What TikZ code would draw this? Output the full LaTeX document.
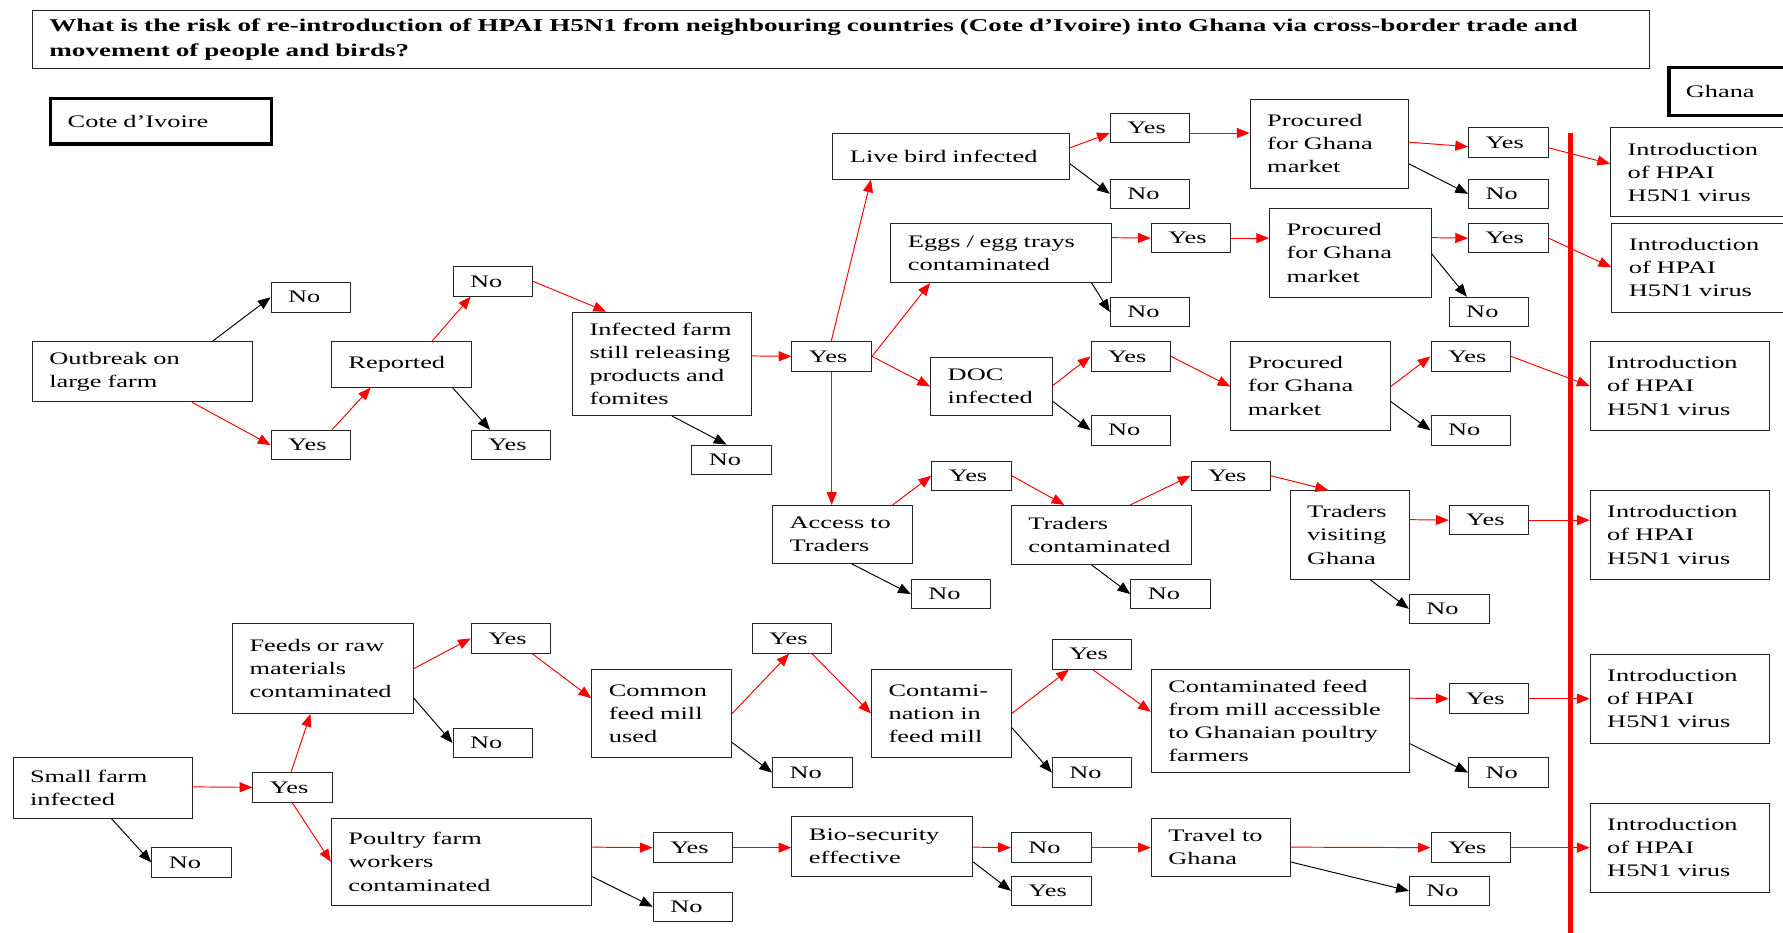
\documentclass[tikz,border=0pt]{standalone}
\usepackage{fontspec}
\setmainfont[FakeStretch=1.5]{Liberation Serif}
\usetikzlibrary{arrows.meta}
\begin{document}
\begin{tikzpicture}[x=0.025cm, y=-0.025cm,
  bx/.style={draw=black!85, line width=0.6pt, anchor=north west, align=left, inner xsep=0.375cm, inner ysep=0pt, font=\fontsize{11}{14.5}\selectfont},
  ans/.style={bx, text width=1cm, minimum height=0.65cm},
  res/.style={bx, text width=3.2cm, minimum height=1.95cm},
  cty/.style={bx, draw=black, line width=2.2pt},
  redarr/.style={red, line width=0.6pt, -{Triangle[length=0.28cm,width=0.22cm]}},
  blkarr/.style={black, line width=0.6pt, -{Triangle[length=0.28cm,width=0.22cm]}}]
\clip (0,0) rectangle (1568,820);
\node[bx, text width=34.8cm, minimum height=1.275cm, font=\fontsize{11.3}{15.5}\selectfont\bfseries] (ttl) at (28,9){What is the risk of re-introduction of HPAI H5N1 from neighbouring countries (Cote d’Ivoire) into Ghana via cross-border trade and\\movement of people and birds?};
\node[cty, text width=4.1cm, minimum height=1cm] (cty0) at (43,85){Cote d’Ivoire};
\node[cty, text width=2.6cm, minimum height=1.05cm] (cty1) at (1466,58){Ghana};
% large farm
\node[bx, text width=4.1cm, minimum height=1.325cm] (q0) at (28,300){Outbreak on\\large farm};
\node[ans] (a0) at (238,248){No};
\node[ans] (a1) at (238,378){Yes};
\draw[blkarr](q0.north -| 187,0) -- (a0.west);
\draw[redarr](q0.south -| 169,0) -- (a1.west);
\node[bx, text width=2.325cm, minimum height=1cm] (q1) at (291,300){Reported};
\node[ans] (a2) at (398,234){No};
\node[ans] (a3) at (414,378){Yes};
\draw[redarr](a1.north -| 292,0) -- (q1.south -| 326,0);
\draw[redarr](q1.north -| 380,0) -- (a2.south -| 414,0);
\draw[blkarr](q1.south -| 398,0) -- (a3.north -| 431,0);
\node[bx, text width=3.175cm, minimum height=2.275cm] (q2) at (503,274){Infected farm\\still releasing\\products and\\fomites};
\node[ans] (a4) at (608,391){No};
\node[ans] (a5) at (696,300){Yes};
\draw[redarr](a2.east) -- (q2.north -| 533,0);
\draw[blkarr](q2.south -| 591,0) -- (a4.north -| 639,0);
\draw[redarr](q2.east |- 0,313) -- (a5.west);
% live birds
\node[bx, text width=4.45cm, minimum height=1cm] (q3) at (732,117){Live bird infected};
\node[ans] (a6) at (976,99){Yes};
\node[ans] (a7) at (976,157){No};
\node[bx, text width=2.725cm, minimum height=1.95cm] (q4) at (1099,87){Procured\\for Ghana\\market};
\node[ans] (a8) at (1291,112){Yes};
\node[ans] (a9) at (1291,157){No};
\node[res, text width=4cm] (r0) at (1416,112){Introduction\\of HPAI\\H5N1 virus};
\draw[redarr](a5.north -| 731,0) -- (q3.south -| 766,0);
\draw[redarr](q3.east |- 0,130) -- (a6.west |- 0,117);
\draw[blkarr](q3.east |- 0,144) -- (a7.west);
\draw[redarr](a6.east |- 0,117) -- (q4.west |- 0,117);
\draw[redarr](q4.east |- 0,125) -- (a8.west |- 0,129);
\draw[blkarr](q4.east |- 0,144) -- (a9.west);
\draw[redarr](a8.east |- 0,130) -- (r0.west |- 0,144);
% eggs
\node[bx, text width=4.1cm, minimum height=1.3cm] (q5) at (783,196){Eggs / egg trays\\contaminated};
\node[ans] (a10) at (1012,196){Yes};
\node[ans] (a11) at (976,261){No};
\node[bx, text width=2.8cm, minimum height=1.95cm] (q6) at (1116,183){Procured\\for Ghana\\market};
\node[ans] (a12) at (1291,196){Yes};
\node[ans] (a13) at (1274,261){No};
\node[res, text width=4cm] (r1) at (1417,196){Introduction\\of HPAI\\H5N1 virus};
\draw[redarr](a5.east) -- (q5.south -| 818,0);
\draw[redarr](q5.east |- 0,209) -- (a10.west);
\draw[blkarr](q5.south -| 960,0) -- (a11.west);
\draw[redarr](a10.east) -- (q6.west |- a10.east);
\draw[redarr](q6.east |- 0,209) -- (a12.west);
\draw[blkarr](q6.east |- 0,223) -- (a13.north -| 1290,0);
\draw[redarr](a12.east) -- (r1.west |- 0,235);
% day old chicks
\node[bx, text width=1.925cm, minimum height=1.275cm] (q7) at (818,314){DOC\\infected};
\node[ans] (a14) at (959,300){Yes};
\node[ans] (a15) at (959,365){No};
\node[bx, text width=2.75cm, minimum height=1.95cm] (q8) at (1082,300){Procured\\for Ghana\\market};
\node[ans] (a16) at (1258,300){Yes};
\node[ans] (a17) at (1258,365){No};
\node[res] (r2) at (1398,300){Introduction\\of HPAI\\H5N1 virus};
\draw[redarr](a5.east) -- (q7.west);
\draw[redarr](q7.east |- 0,339) -- (a14.west);
\draw[blkarr](q7.east |- 0,353) -- (a15.west);
\draw[redarr](a14.east) -- (q8.west |- 0,340);
\draw[redarr](q8.east |- 0,340) -- (a16.west);
\draw[blkarr](q8.east |- 0,353) -- (a17.west);
\draw[redarr](a16.east) -- (r2.west);
% traders
\node[bx, text width=2.325cm, minimum height=1.275cm] (q9) at (679,444){Access to\\Traders};
\node[ans] (a18) at (819,405){Yes};
\node[ans] (a19) at (801,509){No};
\node[bx, text width=3.2cm, minimum height=1.3cm] (q10) at (889,444){Traders\\contaminated};
\node[ans] (a20) at (1047,405){Yes};
\node[ans] (a21) at (994,509){No};
\node[bx, text width=1.875cm, minimum height=1.95cm] (q11) at (1134,431){Traders\\visiting\\Ghana};
\node[ans] (a22) at (1274,444){Yes};
\node[ans] (a23) at (1239,522){No};
\node[res] (r3) at (1398,431){Introduction\\of HPAI\\H5N1 virus};
\draw[redarr](a5.south) -- (a5.south |- q9.north);
\draw[redarr](q9.north -| 785,0) -- (a18.west);
\draw[blkarr](q9.south -| 749,0) -- (a19.west);
\draw[redarr](a18.east) -- (q10.north -| 936,0);
\draw[redarr](q10.north -| 994,0) -- (a20.west);
\draw[blkarr](q10.south -| 960,0) -- (a21.west);
\draw[redarr](a20.east) -- (q11.north -| 1168,0);
\draw[redarr](q11.east |- 0,457) -- (a22.west);
\draw[blkarr](q11.south -| 1205,0) -- (a23.west);
\draw[redarr](a22.east) -- (r3.west |- a22.east);
% small farm
\node[bx, text width=3.2cm, minimum height=1.325cm] (q12) at (11,666){Small farm\\infected};
\node[ans] (a24) at (222,679){Yes};
\node[ans] (a25) at (133,745){No};
\draw[redarr](q12.east |- 0,692) -- (a24.west);
\draw[blkarr](q12.south -| 98,0) -- (a25.west);
% feed
\node[bx, text width=3.225cm, minimum height=1.975cm] (q13) at (204,548){Feeds or raw\\materials\\contaminated};
\node[ans] (a26) at (414,548){Yes};
\node[ans] (a27) at (398,640){No};
\node[bx, text width=2.325cm, minimum height=1.95cm] (q14) at (520,588){Common\\feed mill\\used};
\node[ans] (a28) at (661,548){Yes};
\node[ans] (a29) at (679,666){No};
\node[bx, text width=2.325cm, minimum height=1.95cm] (q15) at (766,588){Contami-\\nation in\\feed mill};
\node[ans] (a30) at (925,562){Yes};
\node[ans] (a31) at (925,666){No};
\node[bx, text width=4.925cm, minimum height=2.275cm] (q16) at (1012,588){Contaminated feed\\from mill accessible\\to Ghanaian poultry\\farmers};
\node[ans] (a32) at (1274,601){Yes};
\node[ans] (a33) at (1291,666){No};
\node[res] (r4) at (1398,575){Introduction\\of HPAI\\H5N1 virus};
\draw[redarr](a24.north -| 256,0) -- (q13.south -| 273,0);
\draw[redarr](q13.east |- 0,588) -- (a26.west);
\draw[blkarr](q13.east |- 0,614) -- (a27.west);
\draw[redarr](a26.south -| 468,0) -- (q14.west |- 0,614);
\draw[redarr](q14.east) -- (a28.south -| 694,0);
\draw[blkarr](q14.east |- 0,653) -- (a29.west);
\draw[redarr](a28.south -| 714,0) -- (q15.west);
\draw[redarr](q15.east) -- (a30.south -| 940,0);
\draw[blkarr](q15.east |- 0,640) -- (a31.west);
\draw[redarr](a30.south -| 961,0) -- (q16.west |- 0,626);
\draw[redarr](q16.east |- 0,614) -- (a32.west);
\draw[blkarr](q16.east |- 0,654) -- (a33.west);
\draw[redarr](a32.east) -- (r4.west |- a32.east);
% farm workers
\node[bx, text width=4.975cm, minimum height=1.925cm] (q17) at (291,719){Poultry farm\\workers\\contaminated};
\node[ans] (a34) at (574,732){Yes};
\node[ans] (a35) at (574,784){No};
\node[bx, text width=3.225cm, minimum height=1.3cm] (q18) at (696,718){Bio-security\\effective};
\node[ans] (a36) at (889,732){No};
\node[ans] (a37) at (889,770){Yes};
\node[bx, text width=2.3cm, minimum height=1.275cm] (q19) at (1012,719){Travel to\\Ghana};
\node[ans] (a38) at (1258,732){Yes};
\node[ans] (a39) at (1239,770){No};
\node[res] (r5) at (1398,706){Introduction\\of HPAI\\H5N1 virus};
\draw[redarr](a24.south -| 257,0) -- (q17.west);
\draw[redarr](q17.east |- 0,745) -- (a34.west);
\draw[blkarr](q17.east |- 0,771) -- (a35.west);
\draw[redarr](a34.east) -- (q18.west |- a34.east);
\draw[redarr](q18.east |- 0,745) -- (a36.west);
\draw[blkarr](q18.east |- 0,758) -- (a37.west);
\draw[redarr](a36.east) -- (q19.west |- a36.east);
\draw[redarr](q19.east |- 0,745) -- (a38.west);
\draw[blkarr](q19.east |- 0,758) -- (a39.west);
\draw[redarr](a38.east) -- (r5.west |- a38.east);
% border
\draw[red, line width=3.1pt] (1381.5,117) -- (1381.5,822);
\end{tikzpicture}
\end{document}
